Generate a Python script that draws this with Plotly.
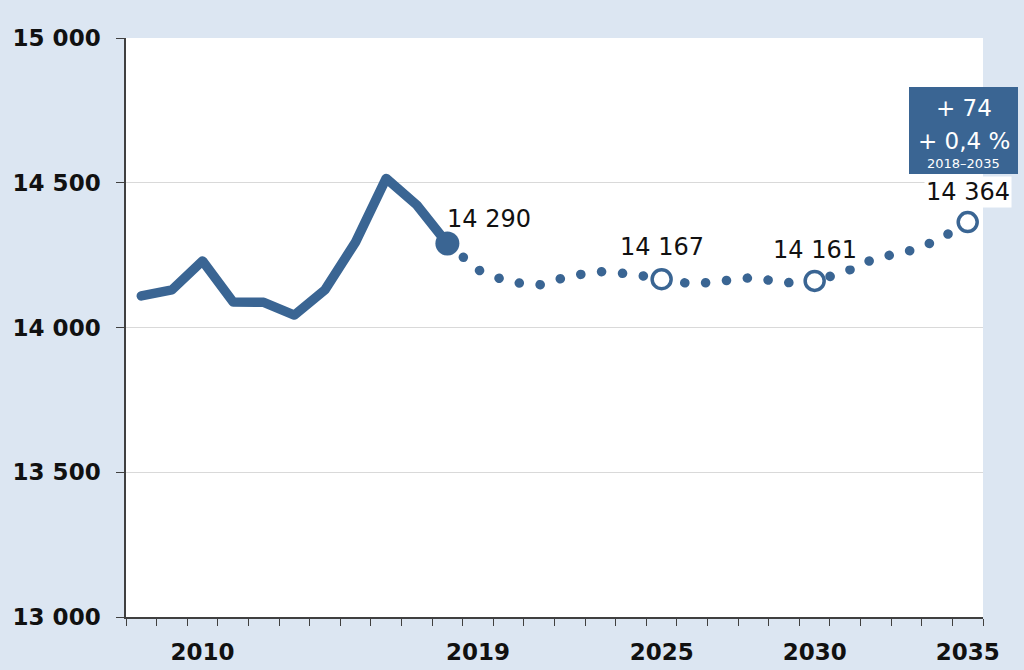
import plotly.graph_objects as go

# ---- data ----
years_hist = [2008, 2009, 2010, 2011, 2012, 2013, 2014, 2015, 2016, 2017, 2018]
values_hist = [14109, 14130, 14230, 14088, 14087, 14043, 14130, 14295, 14515, 14423, 14290]

years_proj = [2018, 2019, 2020, 2021, 2022, 2023, 2024, 2025, 2026, 2027,
              2028, 2029, 2030, 2031, 2032, 2033, 2034, 2035]
values_proj = [14290, 14199, 14157, 14147, 14178, 14193, 14185, 14167, 14150, 14161,
               14173, 14154, 14161, 14192, 14240, 14261, 14300, 14364]

label_years = [2018, 2025, 2030, 2035]
x_tick_years = [2010, 2019, 2025, 2030, 2035]
y_ticks = [13000, 13500, 14000, 14500, 15000]
y_tick_text = ["13 000", "13 500", "14 000", "14 500", "15 000"]
box_lines = ["+ 74", "+ 0,4 %", "2018–2035"]

BLUE = "#3a6593"
BG = "#dce6f2"
AX = "#404040"
FONT = "DejaVu Sans"


def fmt(v):
    return f"{v:,}".replace(",", " ")


val_by_year = dict(zip(years_hist, values_hist))
val_by_year.update(dict(zip(years_proj, values_proj)))

fig = go.Figure()

# projection (dotted)
fig.add_trace(go.Scatter(
    x=years_proj, y=values_proj, mode="lines",
    line=dict(color=BLUE, width=9.5, dash="0.1px,20.9px"),
    hoverinfo="skip", showlegend=False))

# history (solid)
fig.add_trace(go.Scatter(
    x=years_hist, y=values_hist, mode="lines",
    line=dict(color=BLUE, width=9.5),
    hoverinfo="skip", showlegend=False))

# filled marker at 2018
fig.add_trace(go.Scatter(
    x=[label_years[0]], y=[val_by_year[label_years[0]]], mode="markers",
    marker=dict(color=BLUE, size=24, line=dict(width=0)),
    hoverinfo="skip", showlegend=False))

# open markers
fig.add_trace(go.Scatter(
    x=label_years[1:], y=[val_by_year[y] for y in label_years[1:]], mode="markers",
    marker=dict(color="white", size=19, line=dict(color=BLUE, width=3.5)),
    hoverinfo="skip", showlegend=False))

# value labels
lab_font = dict(family=FONT, size=24, color="#111111")
fig.add_annotation(x=label_years[0], y=val_by_year[label_years[0]],
                   text=fmt(val_by_year[label_years[0]]), showarrow=False,
                   xanchor="left", yanchor="middle", xshift=-2, yshift=25,
                   font=lab_font)
for yr, ys in zip(label_years[1:], [32, 31, 30]):
    fig.add_annotation(x=yr, y=val_by_year[yr], text=fmt(val_by_year[yr]),
                       showarrow=False, xanchor="center", yanchor="middle",
                       yshift=ys, bgcolor="white", borderpad=1, font=lab_font)

# change box
fig.add_shape(type="rect", xref="paper", yref="paper",
              x0=(909 - 126) / 857, x1=(1018 - 126) / 857,
              y0=(617 - 174) / 579, y1=(617 - 87) / 579,
              fillcolor=BLUE, line=dict(width=0), layer="above")
box_cx = (963.5 - 126) / 857
fig.add_annotation(xref="paper", yref="paper", x=box_cx, y=(617 - 108) / 579,
                   text=box_lines[0], showarrow=False, xanchor="center", yanchor="middle",
                   font=dict(family=FONT, size=23, color="white"))
fig.add_annotation(xref="paper", yref="paper", x=box_cx, y=(617 - 141) / 579,
                   text=box_lines[1], showarrow=False, xanchor="center", yanchor="middle",
                   font=dict(family=FONT, size=23, color="white"))
fig.add_annotation(xref="paper", yref="paper", x=box_cx, y=(617 - 163) / 579,
                   text=box_lines[2], showarrow=False, xanchor="center", yanchor="middle",
                   font=dict(family=FONT, size=13, color="white"))

fig.update_layout(
    width=1024, height=670,
    margin=dict(l=126, r=41, t=38, b=53, autoexpand=False),
    paper_bgcolor=BG, plot_bgcolor="white",
    showlegend=False,
    font=dict(family=FONT, color="#111111"),
    xaxis=dict(
        range=[2007.5, 2035.5], automargin=False,
        tickmode="array", tickvals=x_tick_years, ticktext=[str(v) for v in x_tick_years],
        ticks="", showgrid=False, zeroline=False,
        showline=True, linecolor=AX, linewidth=1.5,
        tickfont=dict(family=FONT, size=23, color="#111111", weight="bold"),
        ticklabelstandoff=14,
        minor=dict(tick0=2007.5, dtick=1, ticks="outside", ticklen=7,
                   tickcolor=AX, tickwidth=1, showgrid=False),
    ),
    yaxis=dict(
        range=[13000, 15000], automargin=False,
        tickmode="array", tickvals=y_ticks, ticktext=y_tick_text,
        ticks="outside", ticklen=8, tickcolor=AX, tickwidth=1,
        showgrid=True, gridcolor="#d9d9d9", gridwidth=1, zeroline=False,
        showline=True, linecolor=AX, linewidth=1.5,
        tickfont=dict(family=FONT, size=23, color="#111111", weight="bold"),
        ticklabelstandoff=11,
    ),
)

post = """
document.querySelectorAll('.scatterlayer .js-line').forEach(function(p){
  p.style.strokeLinecap='round'; p.style.strokeLinejoin='round';
});
"""
fig.write_html("out.html", post_script=post)
